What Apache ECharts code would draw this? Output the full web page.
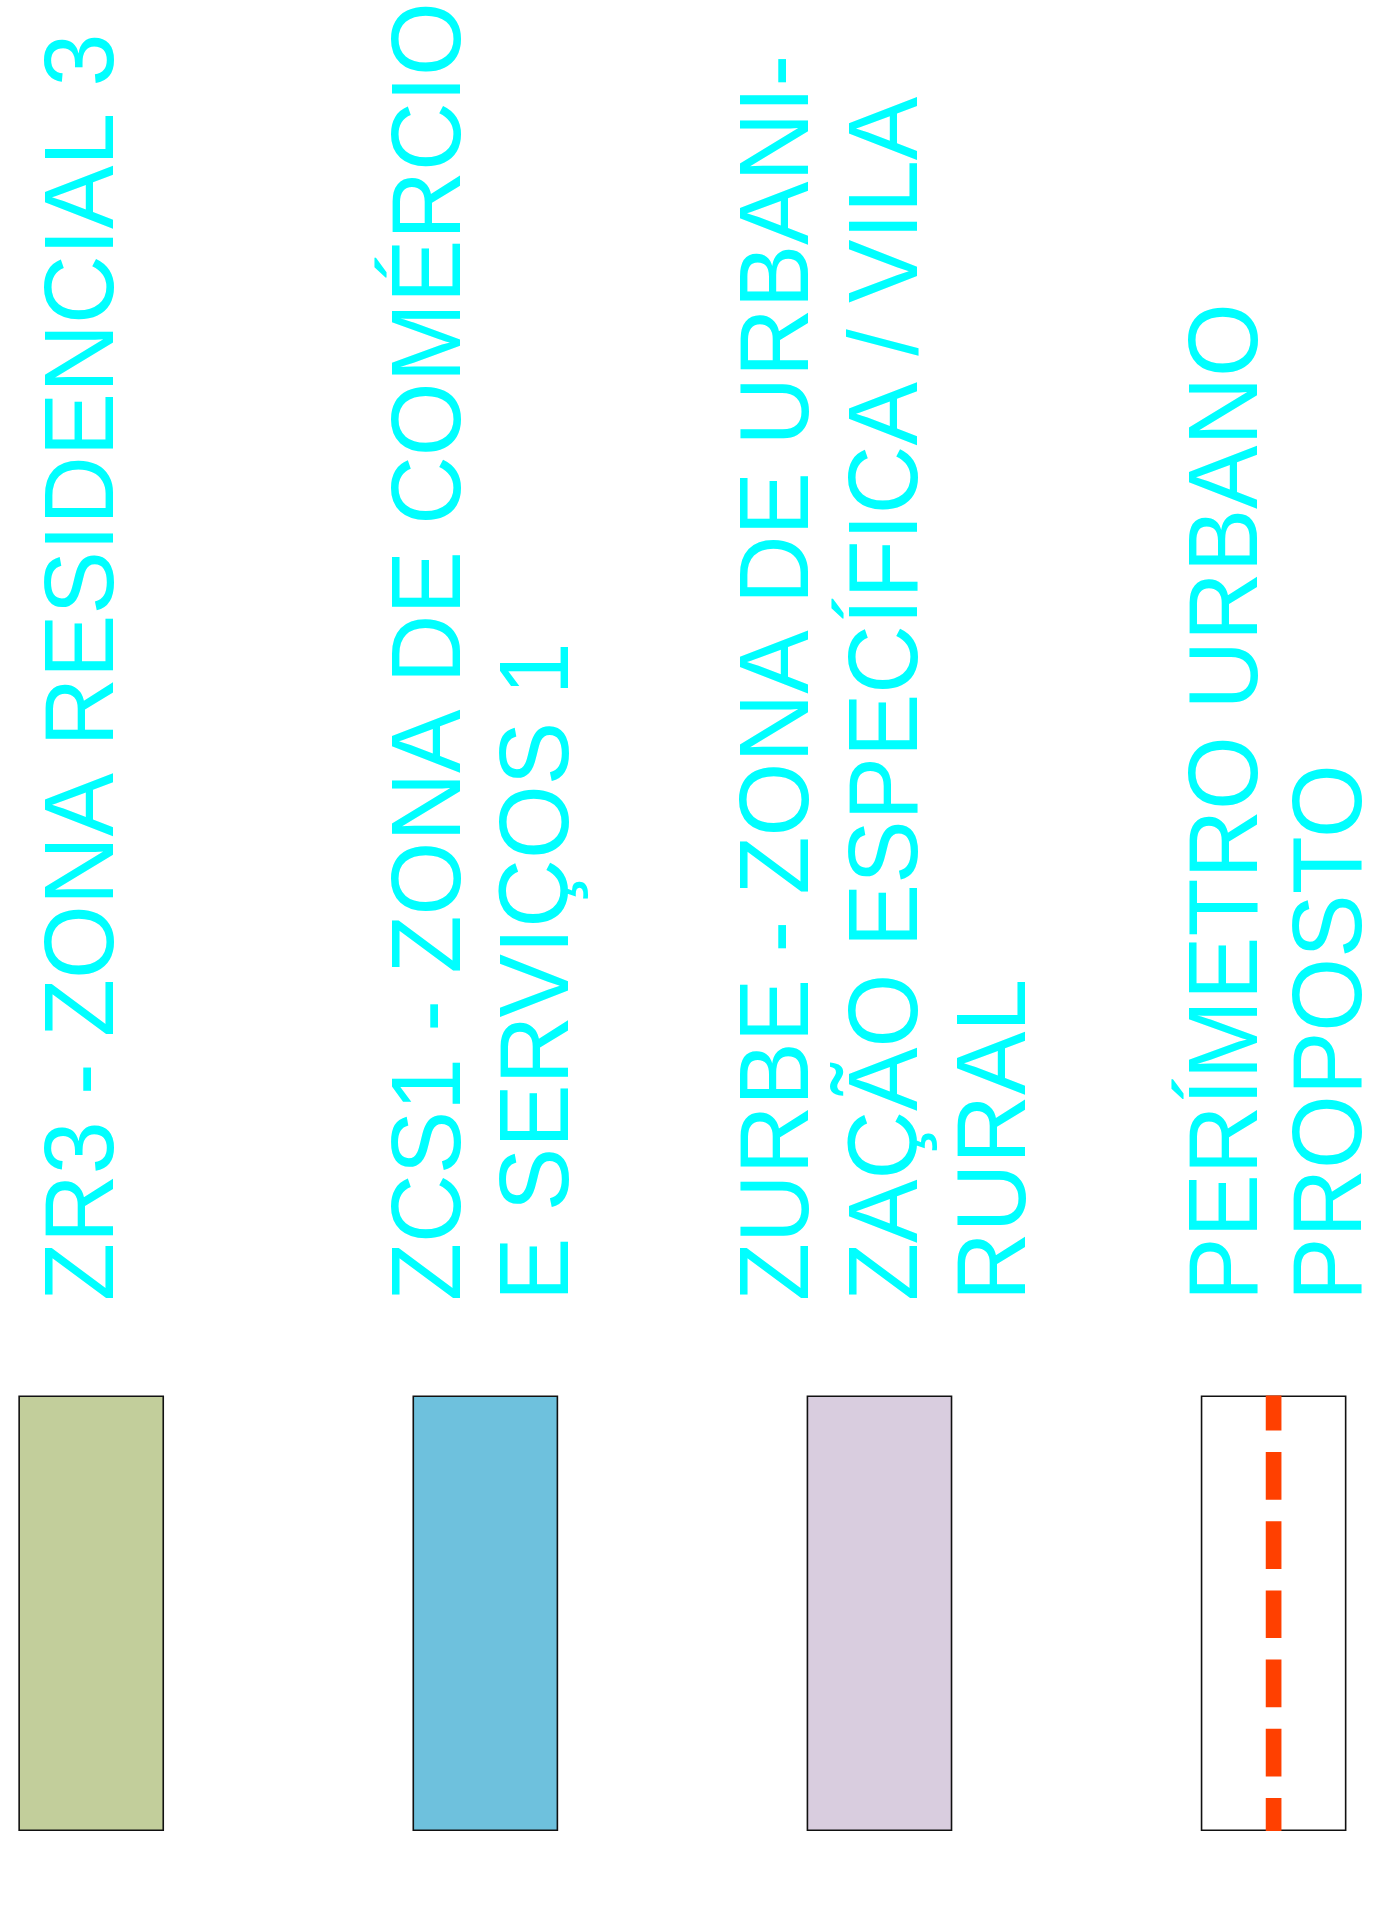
<!doctype html>
<html lang="pt">
<head>
<meta charset="utf-8">
<title>Legenda - Zoneamento</title>
<script src="https://cdn.jsdelivr.net/npm/echarts@6/dist/echarts.min.js"></script>
<style>
  html, body { margin: 0; padding: 0; background: #fff; }
  #main { width: 1375px; height: 1906px; }
</style>
</head>
<body>
<div id="main"></div>
<script type="text/javascript">
// legend entries
var zones = ['ZR3', 'ZCS1', 'ZURBE', 'PERIMETRO'];
var swatchValues = [1, 1, 1, 1];
var swatchColors = ['#c2ce9b', '#6ec1dd', '#d9cddf', '#ffffff'];
var perimeterLine = [[3, 0], [3, 1]];
var labelLines = [
    ['ZR3 - ZONA RESIDENCIAL 3'],
    ['ZCS1 - ZONA DE COMÉRCIO', 'E SERVIÇOS 1'],
    ['ZURBE - ZONA DE URBANI-', 'ZAÇÃO ESPECÍFICA / VILA', 'RURAL'],
    ['PERÍMETRO URBANO', 'PROPOSTO']
];

// x position (centre of capitals) of each text line, per entry
var lineX = [[86], [433, 541], [781, 890, 998], [1230, 1334]];
var textStartY = 1301;

var chart = echarts.init(document.getElementById('main'));

var graphics = [];
labelLines.forEach(function (lines, i) {
    lines.forEach(function (txt, j) {
        graphics.push({
            type: 'text',
            x: lineX[i][j],
            y: textStartY,
            rotation: Math.PI / 2,
            scaleX: 0.96,
            silent: true,
            style: {
                text: txt,
                font: '99px "Liberation Sans", Arial, sans-serif',
                fill: '#00ffff',
                align: 'left',
                verticalAlign: 'middle'
            }
        });
    });
});

var option = {
    animation: false,
    backgroundColor: '#ffffff',
    grid: { left: 91.2, right: 101.4, top: 1395.5, bottom: 75 },
    xAxis: {
        type: 'category',
        data: zones,
        boundaryGap: false,
        show: false
    },
    yAxis: { type: 'value', min: 0, max: 1, show: false },
    graphic: graphics,
    series: [{
        type: 'bar',
        clip: false,
        barWidth: 145.7,
        silent: true,
        data: swatchValues.map(function (v, i) {
            return { value: v, itemStyle: { color: swatchColors[i] } };
        }),
        itemStyle: { borderColor: '#111111', borderWidth: 1.6 }
    }, {
        type: 'line',
        clip: false,
        silent: true,
        symbol: 'none',
        data: perimeterLine,
        lineStyle: {
            color: '#ff4000',
            width: 15.7,
            type: [47.7, 21.5],
            dashOffset: 14.7,
            cap: 'butt'
        }
    }]
};

chart.setOption(option);
</script>
</body>
</html>
